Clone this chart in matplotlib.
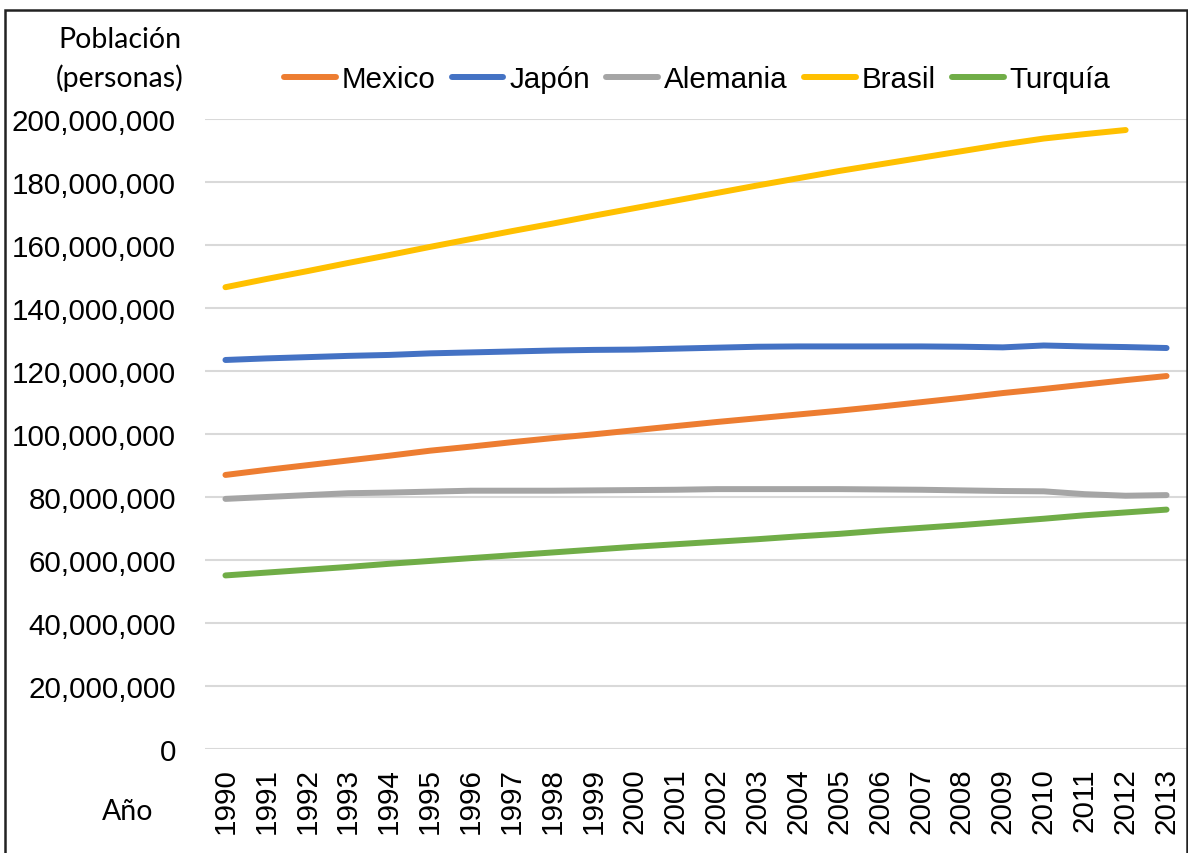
import numpy as np
import matplotlib
matplotlib.use("Agg")
import matplotlib.pyplot as plt
from matplotlib.ticker import FuncFormatter
from matplotlib.patches import Rectangle

years = list(range(1990, 2014))

mexico = [87.0, 88.6, 90.1, 91.6, 93.1, 94.7, 96.0, 97.4, 98.7, 99.9, 101.2, 102.5,
          103.8, 105.0, 106.2, 107.4, 108.7, 110.1, 111.5, 113.0, 114.3, 115.7, 117.1, 118.4]
japon = [123.5, 124.0, 124.4, 124.8, 125.1, 125.6, 125.9, 126.2, 126.5, 126.7, 126.8, 127.1,
         127.4, 127.7, 127.8, 127.8, 127.8, 127.8, 127.7, 127.5, 128.1, 127.8, 127.6, 127.3]
alemania = [79.4, 80.0, 80.6, 81.2, 81.4, 81.7, 82.0, 82.0, 82.0, 82.1, 82.2, 82.3,
            82.5, 82.5, 82.5, 82.5, 82.4, 82.3, 82.1, 81.9, 81.8, 80.9, 80.4, 80.6]
brasil = [146.6, 149.2, 151.7, 154.3, 156.8, 159.4, 161.9, 164.4, 166.8, 169.3, 171.7, 174.1,
          176.5, 178.9, 181.2, 183.5, 185.6, 187.7, 189.8, 191.9, 193.8, 195.2, 196.5, np.nan]
turquia = [55.1, 56.0, 56.9, 57.8, 58.8, 59.7, 60.6, 61.5, 62.4, 63.3, 64.2, 65.0,
           65.8, 66.6, 67.5, 68.3, 69.3, 70.2, 71.1, 72.1, 73.1, 74.2, 75.1, 76.0]

series_names = ["Mexico", "Japón", "Alemania", "Brasil", "Turquía"]
series_vals = [mexico, japon, alemania, brasil, turquia]
colors = ["#ED7D31", "#4472C4", "#A5A5A5", "#FFC000", "#70AD47"]

W, H = 1188, 854
fig = plt.figure(figsize=(W / 100, H / 100), dpi=100)
fig.patch.set_facecolor("white")

ax = fig.add_axes([205 / W, 1 - 750 / H, (1187 - 205) / W, (750 - 120) / H])

x = np.arange(len(years))
for name, vals, c in zip(series_names, series_vals, colors):
    ax.plot(x, np.array(vals) * 1e6, color=c, lw=4.3, label=name,
            solid_capstyle="round", solid_joinstyle="round")

ax.set_xlim(-0.5, len(years) - 0.5)
ax.set_ylim(0, 200e6)
ax.set_yticks(np.arange(0, 200e6 + 1, 20e6))
ax.yaxis.set_major_formatter(FuncFormatter(lambda v, p: f"{int(round(v)):,}"))
ax.set_xticks(x)
ax.set_xticklabels([str(y) for y in years], rotation=90)

ax.grid(axis="y", color="#D9D9D9", lw=1.5)
ax.set_axisbelow(True)
for s in ax.spines.values():
    s.set_visible(False)

tick_font = "Liberation Sans"
ax.tick_params(axis="y", length=0, pad=21, labelsize=21.3, labelcolor="#000000")
ax.tick_params(axis="x", length=0, pad=13, labelsize=21.3, labelcolor="#000000")
for lab in ax.get_xticklabels() + ax.get_yticklabels():
    lab.set_fontfamily(tick_font)

title_font = ["Liberation Sans Narrow", "Lato", "DejaVu Sans"]
fig.text(120 / W, 1 - 40 / H, "Población", ha="center", va="center",
         fontsize=20.5, family=title_font)
fig.text(120 / W, 1 - 78 / H, "(personas)", ha="center", va="center",
         fontsize=20.5, family=title_font)
fig.text(128 / W, 1 - 812 / H, "Año", ha="center", va="center",
         fontsize=20.5, family=title_font)

leg = fig.legend(loc="center", bbox_to_anchor=(697 / W, 1 - 80 / H), ncol=5,
                 frameon=False, handlelength=1.75, handletextpad=0.2,
                 columnspacing=0.55, prop={"family": tick_font, "size": 21.3})

# outer frame
fig.add_artist(Rectangle((4.5 / W, -0.05), (1187 - 4.5) / W, 1.05 - 11 / H,
                         transform=fig.transFigure, fill=False,
                         edgecolor="#222222", lw=1.8))

fig.savefig("out.png", dpi=100)
